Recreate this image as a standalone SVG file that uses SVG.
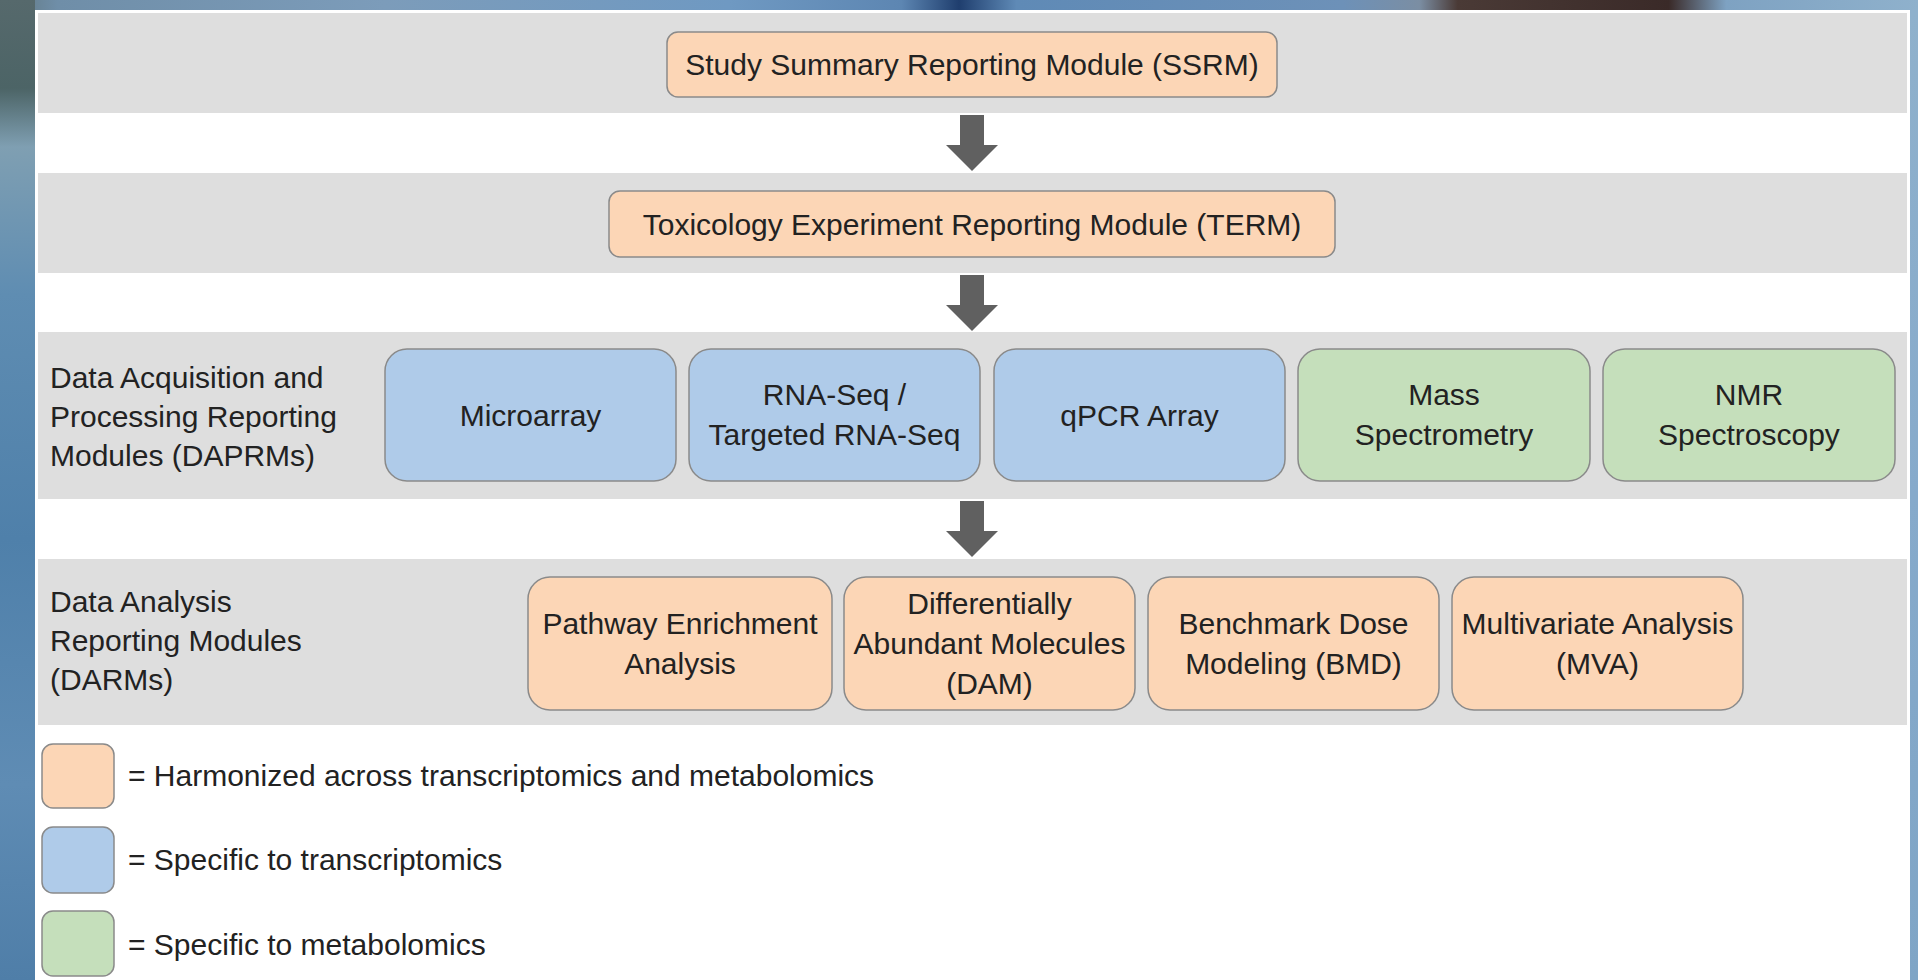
<svg xmlns="http://www.w3.org/2000/svg" width="1918" height="980" viewBox="0 0 1918 980">
<defs>
<linearGradient id="topbg" x1="0" y1="0" x2="1" y2="0">
<stop offset="0" stop-color="#5f747a"/>
<stop offset="0.03" stop-color="#6f8ea8"/>
<stop offset="0.2" stop-color="#7c9cba"/>
<stop offset="0.38" stop-color="#6f99c2"/>
<stop offset="0.47" stop-color="#5d86b2"/>
<stop offset="0.5" stop-color="#1f3e6e"/>
<stop offset="0.53" stop-color="#5f8ab6"/>
<stop offset="0.7" stop-color="#6d91b8"/>
<stop offset="0.74" stop-color="#7b8ea3"/>
<stop offset="0.76" stop-color="#4a3a36"/>
<stop offset="0.87" stop-color="#3a2a28"/>
<stop offset="0.9" stop-color="#7ea2c2"/>
<stop offset="1" stop-color="#8fb1cc"/>
</linearGradient>
<linearGradient id="leftbg" x1="0" y1="0" x2="0" y2="1">
<stop offset="0" stop-color="#56696c"/>
<stop offset="0.09" stop-color="#4c6466"/>
<stop offset="0.15" stop-color="#7f9fb2"/>
<stop offset="0.3" stop-color="#5f8db2"/>
<stop offset="0.55" stop-color="#4f80aa"/>
<stop offset="0.8" stop-color="#5f8cb4"/>
<stop offset="1" stop-color="#4f7ea8"/>
</linearGradient>
<linearGradient id="rightbg" x1="0" y1="0" x2="0" y2="1">
<stop offset="0" stop-color="#8fb1cc"/>
<stop offset="0.5" stop-color="#86aacb"/>
<stop offset="1" stop-color="#7fa5c6"/>
</linearGradient>
</defs>
<style>
text{font-family:"Liberation Sans",Arial,sans-serif;font-size:30px;fill:#222222;}
.c{text-anchor:middle;}
.band{fill:#dedede;}
.box{stroke:#8a8a8a;stroke-width:1.5;}
.or{fill:#fcd6b6;}
.bl{fill:#afcbe9;}
.gr{fill:#c5dfbb;}
.arrow{fill:#606060;}
</style>
<g id="background">
<rect x="0" y="0" width="1918" height="980" fill="url(#topbg)"/>
<rect x="0" y="0" width="35" height="980" fill="url(#leftbg)"/>
<rect x="1910" y="10" width="8" height="970" fill="url(#rightbg)"/>
<rect x="35" y="10" width="1875" height="970" fill="#ffffff"/>
</g>
<g id="bands">
<rect class="band" x="38" y="13" width="1869" height="100"/>
<rect class="band" x="38" y="173" width="1869" height="100"/>
<rect class="band" x="38" y="332" width="1869" height="167"/>
<rect class="band" x="38" y="559" width="1869" height="166"/>
</g>
<g id="ssrm">
<rect class="box or" x="667" y="32" width="610" height="65" rx="11"/>
<text class="c" x="972" y="75">Study Summary Reporting Module (SSRM)</text>
</g>
<g id="term">
<rect class="box or" x="609" y="191" width="726" height="66" rx="11"/>
<text class="c" x="972" y="235">Toxicology Experiment Reporting Module (TERM)</text>
</g>
<g id="daprm-label">
<text x="50" y="388">Data Acquisition and</text>
<text x="50" y="427">Processing Reporting</text>
<text x="50" y="466">Modules (DAPRMs)</text>
</g>
<g id="microarray">
<rect class="box bl" x="385" y="349" width="291" height="132" rx="22"/>
<text class="c" x="530.5" y="426">Microarray</text>
</g>
<g id="rnaseq">
<rect class="box bl" x="689" y="349" width="291" height="132" rx="22"/>
<text class="c" x="834.5" y="405">RNA-Seq /</text>
<text class="c" x="834.5" y="445">Targeted RNA-Seq</text>
</g>
<g id="qpcr">
<rect class="box bl" x="994" y="349" width="291" height="132" rx="22"/>
<text class="c" x="1139.5" y="426">qPCR Array</text>
</g>
<g id="mass">
<rect class="box gr" x="1298" y="349" width="292" height="132" rx="22"/>
<text class="c" x="1444" y="405">Mass</text>
<text class="c" x="1444" y="445">Spectrometry</text>
</g>
<g id="nmr">
<rect class="box gr" x="1603" y="349" width="292" height="132" rx="22"/>
<text class="c" x="1749" y="405">NMR</text>
<text class="c" x="1749" y="445">Spectroscopy</text>
</g>
<g id="darm-label">
<text x="50" y="612">Data Analysis</text>
<text x="50" y="651">Reporting Modules</text>
<text x="50" y="690">(DARMs)</text>
</g>
<g id="pathway">
<rect class="box or" x="528" y="577" width="304" height="133" rx="22"/>
<text class="c" x="680" y="634">Pathway Enrichment</text>
<text class="c" x="680" y="674">Analysis</text>
</g>
<g id="dam">
<rect class="box or" x="844" y="577" width="291" height="133" rx="22"/>
<text class="c" x="989.5" y="614">Differentially</text>
<text class="c" x="989.5" y="654">Abundant Molecules</text>
<text class="c" x="989.5" y="694">(DAM)</text>
</g>
<g id="bmd">
<rect class="box or" x="1148" y="577" width="291" height="133" rx="22"/>
<text class="c" x="1293.5" y="634">Benchmark Dose</text>
<text class="c" x="1293.5" y="674">Modeling (BMD)</text>
</g>
<g id="mva">
<rect class="box or" x="1452" y="577" width="291" height="133" rx="22"/>
<text class="c" x="1597.5" y="634">Multivariate Analysis</text>
<text class="c" x="1597.5" y="674">(MVA)</text>
</g>
<g id="connectors">
<path class="arrow" d="M960 115 H984 V145 H998 L972 171 L946 145 H960 Z"/>
<path class="arrow" d="M960 275 H984 V305 H998 L972 331 L946 305 H960 Z"/>
<path class="arrow" d="M960 501 H984 V531 H998 L972 557 L946 531 H960 Z"/>
</g>
<g id="legend-harmonized">
<rect class="box or" x="42" y="744" width="72" height="64" rx="11"/>
<text x="128" y="786">= Harmonized across transcriptomics and metabolomics</text>
</g>
<g id="legend-transcriptomics">
<rect class="box bl" x="42" y="827" width="72" height="66" rx="11"/>
<text x="128" y="870">= Specific to transcriptomics</text>
</g>
<g id="legend-metabolomics">
<rect class="box gr" x="42" y="911" width="72" height="65" rx="11"/>
<text x="128" y="955">= Specific to metabolomics</text>
</g>
</svg>
